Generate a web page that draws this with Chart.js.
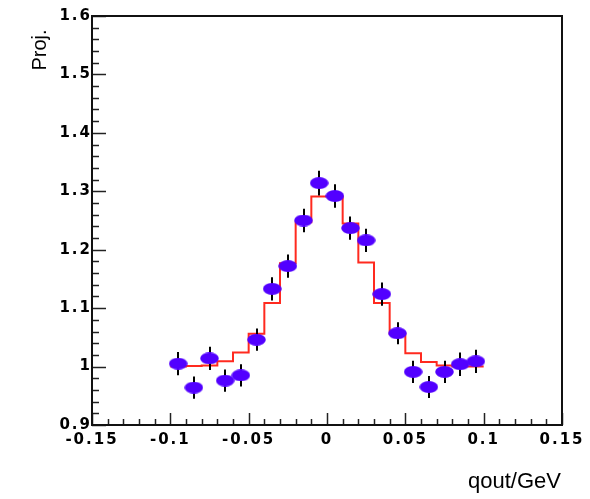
<!DOCTYPE html>
<html>
<head>
<meta charset="utf-8">
<script src="https://cdn.jsdelivr.net/npm/chart.js@4/dist/chart.umd.min.js"></script>
<style>
  html, body { margin: 0; padding: 0; background: #ffffff; }
  #c { display: block; }
</style>
</head>
<body>
<canvas id="c" width="590" height="499"></canvas>
<script>
// ---- data ----
const binCenters = [-0.095, -0.085, -0.075, -0.065, -0.055, -0.045, -0.035, -0.025, -0.015, -0.005,
                     0.005,  0.015,  0.025,  0.035,  0.045,  0.055,  0.065,  0.075,  0.085,  0.095];
const projValues = [1.005, 0.964, 1.014, 0.976, 0.985, 1.046, 1.133, 1.172, 1.250, 1.314,
                    1.292, 1.237, 1.216, 1.124, 1.057, 0.991, 0.965, 0.991, 1.004, 1.009];
const projErrors = [0.020, 0.019, 0.020, 0.019, 0.019, 0.019, 0.020, 0.020, 0.020, 0.021,
                    0.020, 0.020, 0.020, 0.020, 0.019, 0.019, 0.019, 0.019, 0.020, 0.020];
const fitValues  = [1.000, 1.001, 1.002, 1.009, 1.024, 1.056, 1.109, 1.177, 1.247, 1.291,
                    1.291, 1.245, 1.178, 1.109, 1.056, 1.023, 1.008, 1.002, 1.000, 1.000];
const binWidth = 0.01;
const xTickLabels = ['-0.15', '-0.1', '-0.05', '0', '0.05', '0.1', '0.15'];
const yTickLabels = ['0.9', '1', '1.1', '1.2', '1.3', '1.4', '1.5', '1.6'];
const yAxisTitle = 'Proj.';
const xAxisTitle = 'qout/GeV';

// ---- derived structures for the library ----
const stepData = binCenters.map((c, i) => ({ x: c - binWidth / 2, y: fitValues[i] }));
stepData.push({ x: binCenters[binCenters.length - 1] + binWidth / 2, y: fitValues[fitValues.length - 1] });
const pointData = binCenters.map((c, i) => ({ x: c, y: projValues[i] }));

// ellipse marker
const marker = document.createElement('canvas');
marker.width = 19; marker.height = 12;
(function () {
  const m = marker.getContext('2d');
  m.fillStyle = '#5200ff';
  m.beginPath();
  m.ellipse(9.5, 6, 9.3, 5.9, 0, 0, Math.PI * 2);
  m.fill();
})();

const LEFT = 92, TOP = 16, RIGHT = 562, BOTTOM = 425, W = 590, H = 499;

const framePlugin = {
  id: 'frame',
  beforeDraw(chart) {
    chart.ctx.letterSpacing = '2px';
  },
  beforeDatasetDraw(chart, args) {
    if (args.index !== 1) return;
    const ctx = chart.ctx, xs = chart.scales.x, ys = chart.scales.y;
    ctx.save();
    ctx.strokeStyle = '#000';
    ctx.lineWidth = 2;
    binCenters.forEach((c, i) => {
      const px = Math.round(xs.getPixelForValue(c));
      ctx.beginPath();
      ctx.moveTo(px, ys.getPixelForValue(projValues[i] - projErrors[i]));
      ctx.lineTo(px, ys.getPixelForValue(projValues[i] + projErrors[i]));
      ctx.stroke();
    });
    ctx.restore();
  },
  afterDraw(chart) {
    const ctx = chart.ctx, xs = chart.scales.x, ys = chart.scales.y;
    const a = chart.chartArea;
    ctx.save();
    ctx.letterSpacing = '0px';
    // inward ticks
    ctx.strokeStyle = '#222';
    ctx.lineWidth = 1.5;
    for (let k = 0; k <= 30; k++) {
      const v = -0.15 + k * 0.01;
      const px = Math.round(xs.getPixelForValue(v)) + 0.5;
      const len = (k % 5 === 0) ? 12 : 6;
      ctx.beginPath(); ctx.moveTo(px, a.bottom); ctx.lineTo(px, a.bottom - len); ctx.stroke();
    }
    for (let k = 0; k <= 35; k++) {
      const v = 0.9 + k * 0.02;
      const py = Math.round(ys.getPixelForValue(v)) + 0.5;
      const len = (k % 5 === 0) ? 14 : 7;
      ctx.beginPath(); ctx.moveTo(a.left, py); ctx.lineTo(a.left + len, py); ctx.stroke();
    }
    // frame
    ctx.strokeStyle = '#111';
    ctx.lineWidth = 2;
    ctx.strokeRect(a.left, a.top, a.right - a.left, a.bottom - a.top);
    // titles
    ctx.fillStyle = '#000';
    ctx.font = '22px "Liberation Sans", Arial, sans-serif';
    ctx.textAlign = 'right';
    ctx.textBaseline = 'alphabetic';
    ctx.fillText(xAxisTitle, 561, 488);
    ctx.translate(46, 50);
    ctx.rotate(-Math.PI / 2);
    ctx.font = '20px "Liberation Sans", Arial, sans-serif';
    ctx.textAlign = 'center';
    ctx.fillText(yAxisTitle, 0, 0);
    ctx.restore();
  }
};

const tickFont = { family: '"DejaVu Sans", sans-serif', size: 15, weight: 'bold' };

new Chart(document.getElementById('c'), {
  data: {
    datasets: [
      {
        type: 'line',
        data: stepData,
        stepped: 'before',
        borderColor: '#ff2a1f',
        borderWidth: 2,
        pointRadius: 0,
        fill: false,
        order: 1
      },
      {
        type: 'scatter',
        data: pointData,
        pointStyle: marker,
        pointRadius: 9,
        order: 0
      }
    ]
  },
  options: {
    responsive: false,
    animation: false,
    devicePixelRatio: 1,
    layout: { padding: { left: 0, top: TOP, right: W - RIGHT, bottom: 0 } },
    plugins: { legend: { display: false }, tooltip: { enabled: false }, title: { display: false } },
    scales: {
      x: {
        type: 'linear',
        min: -0.15, max: 0.15,
        grid: { display: false, drawTicks: false },
        border: { display: false },
        afterBuildTicks(s) { s.ticks = xTickLabels.map(t => ({ value: parseFloat(t) })); },
        afterFit(s) { s.height = H - BOTTOM; },
        ticks: {
          autoSkip: false, maxRotation: 0, minRotation: 0,
          padding: 6,
          color: '#000',
          font: tickFont,
          callback(v, i) { return xTickLabels[i]; }
        }
      },
      y: {
        type: 'linear',
        min: 0.9, max: 1.6,
        grid: { display: false, drawTicks: false },
        border: { display: false },
        afterBuildTicks(s) { s.ticks = yTickLabels.map(t => ({ value: parseFloat(t) })); },
        afterFit(s) { s.width = LEFT; },
        ticks: {
          autoSkip: false,
          padding: 0,
          color: '#000',
          font: tickFont,
          callback(v, i) { return yTickLabels[i]; }
        }
      }
    }
  },
  plugins: [framePlugin]
});
</script>
</body>
</html>
